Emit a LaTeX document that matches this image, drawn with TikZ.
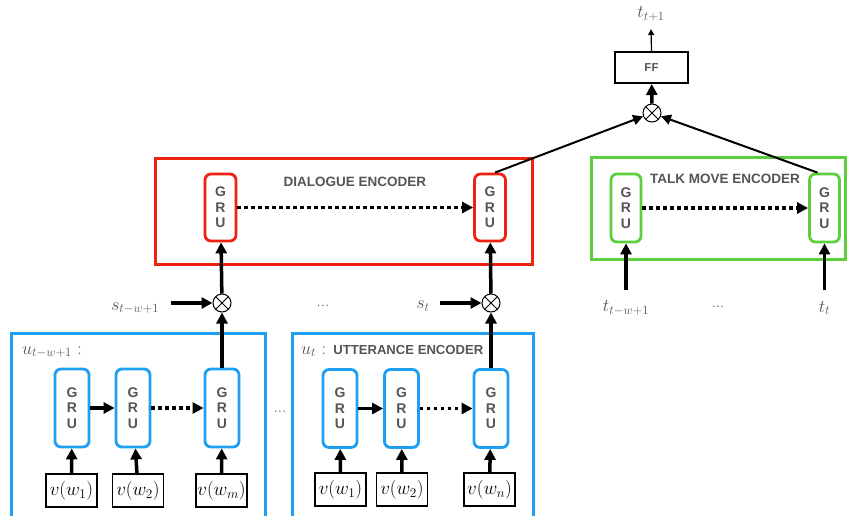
\RequirePackage{fix-cm}
\documentclass[tikz,border=0pt]{standalone}
\usepackage{fontspec}
\setsansfont{Liberation Sans}
\usetikzlibrary{arrows.meta,calc}
\definecolor{cred}{HTML}{EE2211}
\definecolor{cblue}{HTML}{1E9FF0}
\definecolor{cgreen}{HTML}{5CCF3C}
\definecolor{txtgray}{HTML}{555555}
\begin{document}
\begin{tikzpicture}[x=1pt,y=-1pt,
  gru/.style={draw, rounded corners=6pt, line width=2.8pt, inner sep=0pt,
    font=\sffamily\bfseries\fontsize{14}{15.5}\selectfont, text=txtgray, align=center},
  dgru/.style={gru, cred, text=txtgray, minimum width=31pt, minimum height=67pt},
  tgru/.style={gru, cgreen, text=txtgray, minimum width=30pt, minimum height=68pt},
  ugru/.style={gru, cblue, text=txtgray, minimum width=34pt, minimum height=78pt},
  enc/.style={draw, line width=3pt, inner sep=0pt},
  vbox/.style={draw, line width=1.5pt, minimum width=51pt, minimum height=33pt, inner sep=0pt,
    font=\fontsize{19}{21}\selectfont},
  otimes/.style={circle, draw, line width=1pt, minimum size=18pt, inner sep=0pt,
    path picture={\draw[line width=1pt] (path picture bounding box.north west) -- (path picture bounding box.south east)
      (path picture bounding box.north east) -- (path picture bounding box.south west);}},
  arr/.style={-{Triangle[length=11pt,width=11pt]}, line width=3.5pt},
  darr/.style={arr, dash pattern=on 3.5pt off 3.5pt},
  tarr/.style={-{Triangle[length=10pt,width=10pt]}, line width=2pt},
  lab/.style={text=txtgray, font=\fontsize{18}{20}\selectfont, inner sep=0pt},
  title/.style={text=txtgray, font=\sffamily\bfseries\fontsize{13.5}{15}\selectfont, inner sep=0pt},
  dots/.style={text=txtgray, font=\fontsize{17}{18}\selectfont, inner sep=0pt}
]
\useasboundingbox (0,0) rectangle (847,515);
\clip (0,0) rectangle (847,515);

% encoder boxes
\node[enc, cred, minimum width=377pt, minimum height=106pt] (denc) at (343.5,211) {};
\node[enc, cgreen, minimum width=254pt, minimum height=102pt] (tenc) at (718,208) {};
\node[enc, cblue, minimum width=254pt, minimum height=195pt] (uenc1) at (138,430.5) {};
\node[enc, cblue, minimum width=241pt, minimum height=195pt] (uenc2) at (412.5,430.5) {};

\node[title] (dtitle) at (355,182) {DIALOGUE ENCODER};
\node[title] (ttitle) at (725,179) {TALK MOVE ENCODER};

% dialogue GRUs
\node[dgru] (dL) at (220.5,207.5) {G\\R\\U};
\node[dgru] (dR) at (490,207.5) {G\\R\\U};
\draw[darr] (dL) -- (dR);

% talk move GRUs
\node[tgru] (tL) at (626,208) {G\\R\\U};
\node[tgru] (tR) at (824.5,208) {G\\R\\U};
\draw[darr] (tL) -- (tR);

% FF and top
\node[draw, line width=2pt, minimum width=73pt, minimum height=31pt, inner sep=0pt,
  font=\sffamily\bfseries\fontsize{11.5}{13}\selectfont, text=txtgray] (ff) at (651.5,67.5) {FF};
\node[otimes] (o3) at (652,113) {};
\node[lab] (tnext) at (651,14) {$t_{t+1}$};
\coordinate (topend) at (651,29);
\draw[-{Triangle[length=6pt,width=6pt]}, line width=1.2pt] (ff.north) -- (topend);
\draw[arr] (o3) -- (ff);
\draw[tarr] ([xshift=5pt]dR.north) -- (o3);
\draw[tarr] ([xshift=-7pt]tR.north) -- (o3);

% talk move inputs
\node[lab] (tw) at (626,308) {$t_{t-w+1}$};
\node[dots] (tdots) at (718,307) {...};
\node[lab] (tt) at (824.5,308) {$t_t$};
\coordinate (twtop) at (626,290);
\coordinate (tttop) at (824.5,290);
\draw[arr] (twtop) -- (tL);
\draw[arr] (tttop) -- (tR);

% otimes for utterances
\node[otimes] (o1) at (222,303) {};
\node[otimes] (o2) at (491,303) {};
\node[lab] (s1) at (135,308) {$s_{t-w+1}$};
\node[lab] (s2) at (423,306) {$s_t$};
\node[dots] (sdots) at (323,306) {...};
\draw[arr] ([xshift=12pt]s1.east |- o1) -- (o1);
\draw[arr] ([xshift=10pt]s2.east |- o2) -- (o2);
\draw[arr] (o1) -- (dL);
\draw[arr] (o2) -- (dR);

% utterance encoder 1
\node[lab, anchor=west] (u1) at (22,352) {$u_{t-w+1}$ :};
\node[ugru] (a1) at (72,408) {G\\R\\U};
\node[ugru] (a2) at (133,408) {G\\R\\U};
\node[ugru] (a3) at (222,408) {G\\R\\U};
\draw[arr] (a1) -- (a2);
\draw[darr] (a2) -- (a3);
\draw[arr] (a3) -- (o1);
\node[vbox] (v11) at (71.5,490.5) {$v(w_1)$};
\node[vbox] (v12) at (138,490.5) {$v(w_2)$};
\node[vbox] (v13) at (221.5,490.5) {$v(w_m)$};
\draw[arr] (v11) -- (a1);
\draw[arr] (v12) -- (a2);
\draw[arr] (v13) -- (a3);

\node[dots] (udots) at (280,412) {...};

% utterance encoder 2
\node[lab, anchor=west] (u2) at (301,351) {$u_t$ : \textsf{\bfseries\fontsize{13.1}{15}\selectfont UTTERANCE ENCODER}};
\node[ugru] (b1) at (340,408.5) {G\\R\\U};
\node[ugru] (b2) at (401.5,408.5) {G\\R\\U};
\node[ugru] (b3) at (491,408.5) {G\\R\\U};
\draw[arr] (b1) -- (b2);
\draw[darr] (b2) -- (b3);
\draw[arr] (b3) -- (o2);
\node[vbox] (v21) at (340.5,489.5) {$v(w_1)$};
\node[vbox] (v22) at (402,489.5) {$v(w_2)$};
\node[vbox] (v23) at (489.5,489.5) {$v(w_n)$};
\draw[arr] (v21) -- (b1);
\draw[arr] (v22) -- (b2);
\draw[arr] (v23) -- (b3);
\end{tikzpicture}
\end{document}
